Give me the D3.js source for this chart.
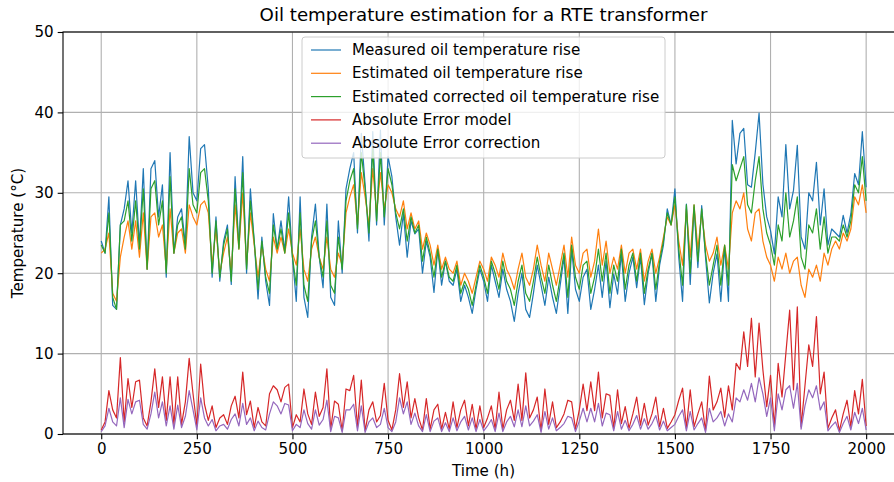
<!DOCTYPE html>
<html>
<head>
<meta charset="utf-8">
<script src="https://cdn.jsdelivr.net/npm/d3@7"></script>
<style>
  html, body { margin: 0; padding: 0; background: #fff; }
  svg { display: block; font-family: "DejaVu Sans", sans-serif; }
</style>
</head>
<body>
<svg id="chart" width="894" height="482"></svg>
<script>
// Oil temperature rise of an RTE transformer, sampled every 10 h
const hours = d3.range(0, 2001, 10);

const measured = [
  24, 22.5, 29.5, 16, 15.5, 26, 28, 31.5, 25, 31.5,
  23.5, 33, 20.5, 33, 34, 27, 31, 19.5, 35, 22.5,
  27, 28, 23.5, 37, 30, 29, 35.5, 36, 30.5, 19.5,
  27, 19, 24, 26, 18.6, 32, 23.2, 34.5, 20, 30.5,
  24, 16.8, 24.5, 19, 16, 27.4, 23, 26.5, 22.8, 29.5,
  22, 16.5, 29.5, 17, 14.5, 24.5, 28.6, 22, 18.2, 28.6,
  17, 16, 26.5, 20, 30.5, 33, 35, 25, 37.4, 31,
  24, 37.6, 26, 37.8, 26, 34.5, 32, 27, 23.5, 27.4,
  22, 26.5, 24.9, 25.5, 20, 24, 22, 17.6, 23, 18.5,
  21.5, 19, 18.5, 20.5, 16.5, 18.5, 17, 15, 18, 20.5,
  19, 16.5, 21, 19, 17, 20.5, 18, 16.5, 14, 17.5,
  20, 15.5, 14.5, 17.5, 21, 18.5, 16, 19.5, 17, 15,
  18.5, 22, 15, 23, 18, 16.5, 19.5, 20.5, 15.5, 18,
  21, 17, 21.5, 15.7, 19.9, 17.4, 22.4, 16.5, 20, 22,
  18.2, 22, 16.1, 20, 22.4, 16.5, 21, 23.5, 28, 26,
  30.5, 22, 16.5, 28.6, 18.6, 28.2, 20.7, 28.4, 22, 16.3,
  20, 22.4, 16.5, 23.2, 16.5, 39, 33.6, 37.4, 38, 31,
  30.7, 35, 39.9, 31.1, 27, 25.3, 22.4, 29.5, 27, 36,
  28, 30.3, 35.9, 24.5, 23, 30, 29, 33.8, 26, 30.5,
  23.5, 25.5, 25, 24.5, 27.2, 25, 27.4, 32.4, 31, 37.6,
  30.7
];

const estimated = [
  22.5, 23, 25, 17.5, 16.5, 22, 24.5, 26.5, 23, 26.5,
  22, 27.5, 20.5, 27, 27.5, 24.5, 26, 20.5, 28, 22.5,
  25, 25.5, 22.5, 28.5, 27, 26, 28.5, 29, 27.5, 21,
  25.5, 20, 22.5, 24.5, 20, 28.5, 23, 30, 21, 27.5,
  23.5, 19.5, 23.5, 20.5, 19, 24.5, 22.5, 24.5, 22.5, 25.5,
  22.5, 21, 25.5, 20.5, 19, 23, 24.5, 22, 20.5, 24.5,
  20.5, 19.5, 22.5, 21, 27.5, 29.5, 31, 26, 32.5, 29.5,
  26, 33, 27.5, 32.5, 28, 31, 30, 28, 27, 29,
  25.5, 27.5, 25.5, 26.5, 23, 25, 23.5, 21, 23.5, 20.5,
  22, 20.5, 20, 21.5, 18.5, 20, 19, 17.5, 19.5, 21.5,
  20.5, 19, 22, 21, 19.5, 22.5, 20.5, 19.5, 18, 20.5,
  22.5, 19.5, 18.5, 20.5, 23.5, 21, 19, 22.5, 20.5, 18.5,
  21, 23.5, 19.5, 24.5, 21, 20, 22.5, 23, 19.5, 21.5,
  25.5, 21, 24, 20, 22, 20.5, 23.5, 20, 22.5, 23,
  20.5, 23, 19, 21.5, 23, 20, 22, 24.5, 27, 26,
  28.5, 24, 21, 28, 22, 28.5, 23, 27.5, 23.5, 21.5,
  22.5, 24.5, 21, 23.5, 20.5, 27.5, 29, 28, 30, 25.5,
  24, 27.5, 28, 24, 22, 21, 19, 22, 20.5, 22.5,
  20, 21.5, 22, 18.5, 17, 20.5, 19.5, 21, 19, 22.5,
  21, 23, 24, 23, 25, 24, 25.5, 29.5, 28.5, 31,
  27.5
];

const corrected = [
  23.5, 22.5, 27.5, 17, 15.5, 26, 26.5, 29, 24, 29,
  23, 30.5, 20.5, 30.5, 31.5, 26, 29, 20, 32, 22.5,
  26, 27, 23, 33, 28.5, 27.5, 32.5, 33, 29, 20,
  26.5, 19.5, 23.5, 25.5, 19, 30.5, 23, 32.5, 20.5, 29,
  24, 18, 24, 19.5, 17.5, 26, 23, 25.5, 22.5, 27.5,
  22, 18.5, 27.5, 18.5, 16.5, 24, 26.5, 22, 19.5, 26.5,
  18.5, 17.5, 24.5, 20.5, 29, 31.5, 33, 25.5, 35, 30.5,
  25, 35.5, 26.5, 35, 27, 33, 31, 27.5, 25.5, 28,
  24, 27, 25, 26, 21.5, 24.5, 22.5, 19.5, 23, 19.5,
  21.5, 19.5, 19, 21, 17.5, 19, 18, 16, 18.5, 21,
  19.5, 17.5, 21.5, 20, 18, 21.5, 19, 18, 16, 19,
  21, 17.5, 16.5, 19, 22, 19.5, 17.5, 21, 18.5, 16.5,
  19.5, 22.5, 17, 23.5, 19.5, 18, 21, 21.5, 17.5, 19.5,
  23, 19, 22.5, 17.5, 21, 19, 23, 18, 21, 22.5,
  19, 22.5, 17.5, 20.5, 22.5, 18, 21.5, 24, 27.5, 26,
  29.5, 23, 18.5, 28.5, 20, 28.5, 21.5, 28, 22.5, 18.5,
  21, 23.5, 18.5, 23.5, 18.5, 33.5, 31.5, 33, 34.5, 28.5,
  27.5, 31.5, 34.5, 28, 25, 23.5, 21, 26, 24, 30,
  24.5, 26.5, 29.5, 22, 20.5, 26, 25, 28, 23, 27,
  22.5, 24.5, 24.5, 24, 26, 24.5, 26.5, 31, 30, 34.5,
  29
];

const errorModel = [
  0.5, 1.5, 5.4, 3, 2, 9.5, 1.5, 6.9, 3.3, 6.5,
  6.7, 2, 1, 4, 8.1, 3.3, 7.1, 1.7, 7.1, 1.2,
  7.1, 1.2, 4, 9.4, 5, 1, 8.7, 3.7, 1.7, 3.5,
  0.8, 2, 2.4, 1.2, 3.5, 4.7, 2, 7.7, 2.4, 4.1,
  0.8, 3.3, 1.5, 1, 5, 6, 5.5, 4, 5.8, 6.2,
  0.8, 2.4, 1.5, 5.6, 2.5, 1.2, 5.2, 2.2, 3.3, 8.1,
  0.6, 4.1, 3.7, 0.4, 5.6, 5.4, 7.3, 0.8, 6.7, 0.4,
  3, 4, 1.5, 2.3, 6.3, 1.7, 0.5, 3, 7.5, 3.3,
  6.5, 2, 4.4, 2, 0.5, 4.4, 0.6, 3, 3.7, 0.6,
  2.7, 0.6, 4, 0.8, 3, 4.2, 1, 3.7, 0.6, 3.5,
  0.8, 2, 3.5, 0.6, 5.2, 0.6, 3, 4.2, 1.7, 6.2,
  1.7, 7.6, 2, 3, 4.6, 0.4, 5.6, 1.2, 4, 0.8,
  1.5, 2.5, 4.2, 4, 0.6, 3, 6.2, 2.9, 6.5, 2.9,
  7.7, 2, 5, 4.8, 0.7, 5.5, 1.3, 3.4, 0.7, 2.5,
  4.6, 1.1, 3.8, 1.1, 2.5, 4.6, 0.9, 3.2, 0.7, 1.5,
  2.4, 4.2, 5.7, 0.7, 5.5, 0.9, 2.5, 4, 0.4, 7.2,
  3, 4, 5.7, 2.1, 6, 3, 8.8, 8, 12.7, 8.4,
  14.4, 7.1, 13.8, 8, 3.4, 7.3, 0.9, 8.8, 4.6, 10,
  15.4, 5.5, 15.8, 0.9, 6, 11.1, 8.4, 14.6, 5, 7.7,
  0.7, 2, 3, 0.4, 2.5, 4.2, 0.9, 5.4, 2.5, 6.8,
  1
];

const errorCorrection = [
  0.3, 1, 3.2, 1.5, 1, 4.5, 0.8, 4.3, 2.5, 4,
  4.2, 1.2, 0.6, 2.5, 5.2, 2, 4, 1, 3.5, 0.6,
  3.6, 0.8, 2.2, 5.4, 3, 0.5, 4.5, 2, 1, 1.8,
  0.4, 1, 1.2, 0.6, 1.8, 2.5, 1, 3.8, 1.2, 2,
  0.4, 1.6, 0.8, 0.5, 2.5, 4, 3.5, 2.5, 3.8, 3.6,
  0.4, 1.2, 0.8, 3, 1.3, 0.6, 3, 1.1, 1.8, 4.2,
  0.3, 2.2, 2, 0.2, 3, 3, 3.7, 0.4, 3.5, 0.2,
  1.5, 2, 0.8, 1.2, 3.2, 0.8, 0.3, 1.5, 4.5, 2.5,
  4, 1.2, 2.6, 1, 0.3, 2.4, 0.3, 1.6, 2, 0.3,
  1.4, 0.3, 2, 0.4, 1.5, 2.2, 0.5, 2, 0.3, 1.8,
  0.4, 1, 1.8, 0.3, 2.6, 0.3, 1.5, 2.2, 0.9, 3,
  0.9, 3.5, 1, 1.6, 2.4, 0.2, 2.8, 0.6, 2, 0.4,
  0.8, 1.3, 2.2, 2, 0.3, 1.6, 3.2, 1.5, 3.2, 1.5,
  3.8, 1, 2.6, 2.4, 0.4, 2.8, 0.6, 1.7, 0.4, 1.2,
  2.3, 0.6, 1.9, 0.6, 1.3, 2.3, 0.5, 1.6, 0.4, 0.8,
  1.2, 2.2, 3, 0.4, 2.8, 0.5, 1.3, 2, 0.2, 3.2,
  1.5, 2, 2.8, 1, 2.5, 1.5, 4.5, 4, 5.5, 4.2,
  6.3, 4, 7, 5, 2.2, 4.5, 0.4, 5, 3, 5.5,
  6, 3.2, 6.3, 0.6, 3.5, 5.5, 4.5, 6, 3, 4,
  0.4, 1, 1.5, 0.2, 1.3, 2.2, 0.5, 2.7, 1.3, 3.2,
  0.5
];

const xTicks = [0, 250, 500, 750, 1000, 1250, 1500, 1750, 2000];
const yTicks = [0, 10, 20, 30, 40, 50];

const series = [
  { name: "Measured oil temperature rise", values: measured, color: "#1f77b4" },
  { name: "Estimated oil temperature rise", values: estimated, color: "#ff7f0e" },
  { name: "Estimated corrected oil temperature rise", values: corrected, color: "#2ca02c" },
  { name: "Absolute Error model", values: errorModel, color: "#d62728" },
  { name: "Absolute Error correction", values: errorCorrection, color: "#9467bd" }
];

const FONT = 15.1;
const svg = d3.select("#chart");
const plot = { left: 63, top: 32, right: 904, bottom: 434 };

const x = d3.scaleLinear().domain([-99.95, 2098.95]).range([plot.left, plot.right]);
const y = d3.scaleLinear().domain([0, 50]).range([plot.bottom, plot.top]);

svg.append("defs").append("clipPath").attr("id", "plotClip")
  .append("rect")
  .attr("x", plot.left).attr("y", plot.top)
  .attr("width", plot.right - plot.left).attr("height", plot.bottom - plot.top);

// grid
const grid = svg.append("g").attr("stroke", "#b0b0b0").attr("stroke-width", 1.1);
grid.selectAll(".gx").data(xTicks).join("line")
  .attr("x1", d => x(d)).attr("x2", d => x(d))
  .attr("y1", plot.top).attr("y2", plot.bottom);
grid.selectAll(".gy").data(yTicks).join("line")
  .attr("x1", plot.left).attr("x2", plot.right)
  .attr("y1", d => y(d)).attr("y2", d => y(d));

// series lines
const lineGen = d3.line()
  .x((d, i) => x(hours[i]))
  .y(d => y(d));

svg.append("g").attr("clip-path", "url(#plotClip)")
  .selectAll("path").data(series).join("path")
  .attr("d", s => lineGen(s.values))
  .attr("fill", "none")
  .attr("stroke", s => s.color)
  .attr("stroke-width", 1.2)
  .attr("stroke-linejoin", "round");

// axes
const xAxis = d3.axisBottom(x).tickValues(xTicks).tickSize(5.3).tickPadding(4).tickFormat(d3.format("d"));
const yAxis = d3.axisLeft(y).tickValues(yTicks).tickSize(5.3).tickPadding(4).tickFormat(d3.format("d"));

const gx = svg.append("g").attr("transform", `translate(0,${plot.bottom})`).call(xAxis);
const gy = svg.append("g").attr("transform", `translate(${plot.left},0)`).call(yAxis);
[gx, gy].forEach(g => {
  g.select(".domain").remove();
  g.selectAll(".tick line").attr("stroke", "#000").attr("stroke-width", 1.1);
  g.selectAll(".tick text").attr("fill", "#000").attr("font-size", FONT)
    .attr("font-family", "DejaVu Sans");
});

// spines
svg.append("rect")
  .attr("x", plot.left).attr("y", plot.top)
  .attr("width", plot.right - plot.left).attr("height", plot.bottom - plot.top)
  .attr("fill", "none").attr("stroke", "#000").attr("stroke-width", 1.1);

// titles
svg.append("text")
  .attr("x", (plot.left + plot.right) / 2).attr("y", 21)
  .attr("text-anchor", "middle").attr("font-size", 18.2)
  .text("Oil temperature estimation for a RTE transformer");

svg.append("text")
  .attr("x", (plot.left + plot.right) / 2).attr("y", 476)
  .attr("text-anchor", "middle").attr("font-size", FONT)
  .text("Time (h)");

svg.append("text")
  .attr("transform", `translate(23,${(plot.top + plot.bottom) / 2}) rotate(-90)`)
  .attr("text-anchor", "middle").attr("font-size", FONT)
  .text("Temperature (°C)");

// legend
const legend = svg.append("g");
const lx = 302, ly = 37, lw = 363, lh = 121, rowH = 23.3;
legend.append("rect")
  .attr("x", lx).attr("y", ly).attr("width", lw).attr("height", lh)
  .attr("rx", 3).attr("fill", "#fff").attr("fill-opacity", 0.8)
  .attr("stroke", "#cccccc").attr("stroke-width", 1);
const rows = legend.selectAll(".row").data(series).join("g")
  .attr("transform", (d, i) => `translate(0,${ly + 13 + i * rowH})`);
rows.append("line")
  .attr("x1", lx + 9).attr("x2", lx + 39)
  .attr("stroke", d => d.color).attr("stroke-width", 1.2);
rows.append("text")
  .attr("x", lx + 50).attr("y", 5)
  .attr("font-size", FONT)
  .text(d => d.name);
</script>
</body>
</html>
